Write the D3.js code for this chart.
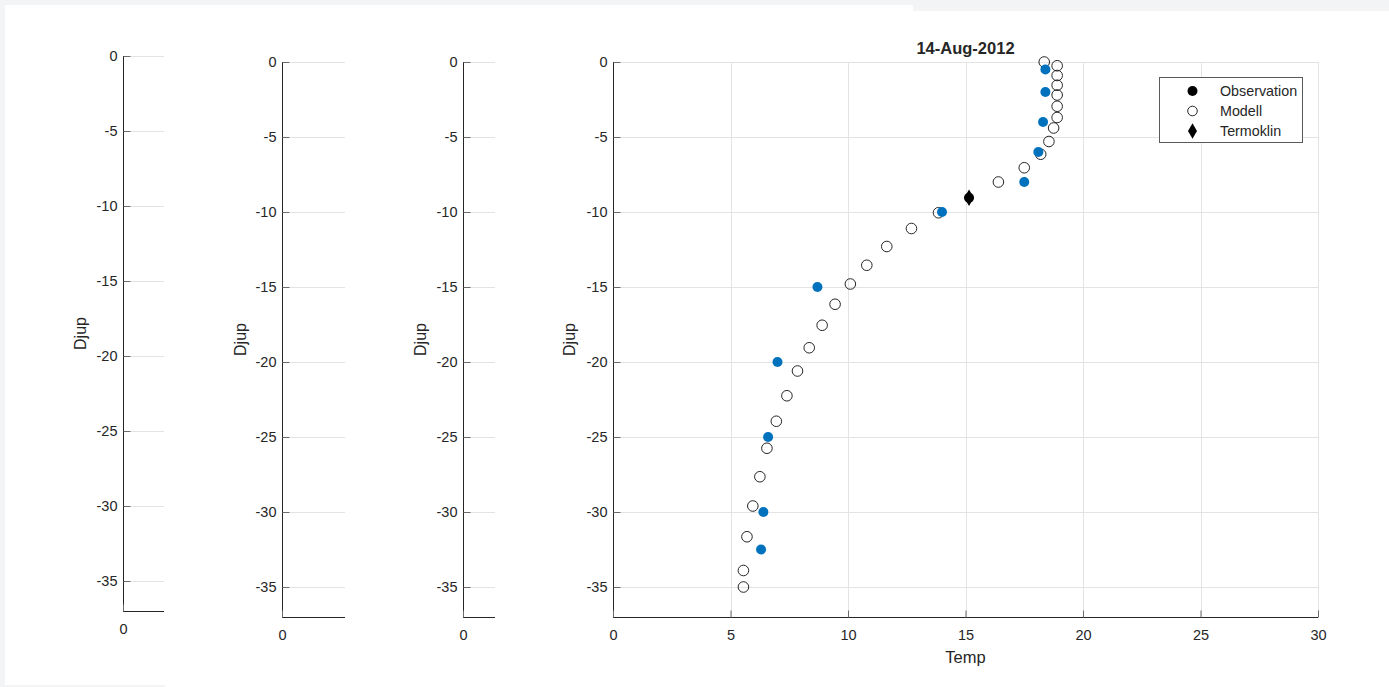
<!DOCTYPE html>
<html>
<head>
<meta charset="utf-8">
<script src="https://cdn.jsdelivr.net/npm/d3@7"></script>
<style>
  html, body { margin: 0; padding: 0; background: #f3f4f6; }
  svg { display: block; }
  text { font-family: "Liberation Sans", Arial, Helvetica, sans-serif; fill: #262626; }
</style>
</head>
<body>
<svg id="fig" width="1389" height="687"></svg>
<script>
// Profile date
const plotTitle = "14-Aug-2012";

// Observed temperature profile (depth in m, temperature in °C)
const obsDepth = [-0.5, -2, -4, -6, -8, -10, -15, -20, -25, -30, -32.5];
const obsTemp  = [18.4, 18.4, 18.3, 18.1, 17.5, 14.0, 8.7, 7.0, 6.6, 6.4, 6.3];

// Modelled temperature profile
const modDepth = [0, -0.25, -0.9, -1.55, -2.2, -2.95, -3.7, -4.4, -5.3, -6.15, -7.05, -8.0,
                  -10.05, -11.1, -12.3, -13.55, -14.8, -16.15, -17.55, -19.05, -20.6,
                  -22.25, -23.95, -25.75, -27.65, -29.6, -31.65, -33.9, -35.0];
const modTemp  = [18.35, 18.9, 18.9, 18.9, 18.9, 18.9, 18.9, 18.75, 18.55, 18.2, 17.5, 16.4,
                  13.85, 12.7, 11.65, 10.8, 10.1, 9.45, 8.9, 8.35, 7.85,
                  7.4, 6.95, 6.55, 6.25, 5.95, 5.7, 5.55, 5.55];

// Thermocline position
const thermoDepth = [-9.05];
const thermoTemp  = [15.15];

// Axis ticks
const depthTicks = [0, -5, -10, -15, -20, -25, -30, -35];
const tempTicks  = [0, 5, 10, 15, 20, 25, 30];
const emptyTempTicks = [0];

const legendLabels = ["Observation", "Modell", "Termoklin"];

const obsColor = "#0072bd";
const axisColor = "#262626";
const gridColor = "#e3e3e3";

const svg = d3.select("#fig");

// Figure background
svg.append("rect").attr("x", 5).attr("y", 5).attr("width", 908).attr("height", 680).attr("fill", "#fff");
svg.append("rect").attr("x", 913).attr("y", 11).attr("width", 476).attr("height", 676).attr("fill", "#fff");
svg.append("rect").attr("x", 165).attr("y", 685).attr("width", 748).attr("height", 2).attr("fill", "#fff");

// Subplot boxes: three empty profile axes and the main one
const panels = [
  { left: 123, right: 164, top: 56, bottom: 611, xDomain: [0, 1], xTicks: emptyTempTicks, ylabX: 80 },
  { left: 282, right: 345, top: 62, bottom: 617, xDomain: [0, 1], xTicks: emptyTempTicks, ylabX: 240 },
  { left: 463, right: 495, top: 62, bottom: 617, xDomain: [0, 1], xTicks: emptyTempTicks, ylabX: 420 },
  { left: 613, right: 1318, top: 62, bottom: 617, xDomain: [0, 30], xTicks: tempTicks, ylabX: 569, main: true }
];

const tickLen = 7;
const fmt = d => String(d);   // plain hyphen-minus, no decimals

panels.forEach(p => {
  const x = d3.scaleLinear().domain(p.xDomain).range([p.left, p.right]);
  const y = d3.scaleLinear().domain([-37, 0]).range([p.bottom, p.top]);
  const g = svg.append("g");

  // grid
  const grid = g.append("g").attr("stroke", gridColor).attr("stroke-width", 1);
  depthTicks.forEach(d => {
    grid.append("line")
      .attr("x1", p.left).attr("x2", p.right)
      .attr("y1", Math.round(y(d)) + 0.5).attr("y2", Math.round(y(d)) + 0.5);
  });
  if (p.main) {
    p.xTicks.filter(t => t > 0).forEach(t => {
      grid.append("line")
        .attr("x1", Math.round(x(t)) + 0.5).attr("x2", Math.round(x(t)) + 0.5)
        .attr("y1", p.top).attr("y2", p.bottom);
    });
  }

  // y axis
  const yAxis = d3.axisLeft(y).tickValues(depthTicks).tickFormat(fmt)
    .tickSizeInner(-tickLen).tickSizeOuter(0).tickPadding(6);
  const ya = g.append("g").attr("transform", `translate(${p.left + 0.5},0)`).call(yAxis);
  ya.select(".domain").attr("stroke", axisColor).attr("d", `M0,${p.top}V${p.bottom + 0.5}`);
  ya.selectAll(".tick line").attr("stroke", "#6b6b6b");
  ya.selectAll(".tick text").attr("font-size", 14.5).attr("fill", axisColor)
    .attr("font-family", "'Liberation Sans', Arial, sans-serif");

  // x axis
  const xAxis = d3.axisBottom(x).tickValues(p.xTicks).tickFormat(fmt)
    .tickSizeInner(-tickLen).tickSizeOuter(0).tickPadding(12);
  const xa = g.append("g").attr("transform", `translate(0,${p.bottom + 0.5})`).call(xAxis);
  xa.select(".domain").attr("stroke", axisColor).attr("d", `M${p.left},0H${p.right}`);
  xa.selectAll(".tick line").attr("stroke", "#6b6b6b");
  xa.selectAll(".tick text").attr("font-size", 14.5).attr("fill", axisColor)
    .attr("font-family", "'Liberation Sans', Arial, sans-serif");

  // y label
  g.append("text")
    .attr("transform", `translate(${p.ylabX},${(p.top + p.bottom) / 2}) rotate(-90)`)
    .attr("text-anchor", "middle").attr("dy", "0.35em")
    .attr("font-size", 16).text("Djup");

  if (p.main) {
    // title and x label
    g.append("text").attr("x", (p.left + p.right) / 2).attr("y", 54)
      .attr("text-anchor", "middle").attr("font-size", 16.5).attr("font-weight", "bold").text(plotTitle);
    g.append("text").attr("x", (p.left + p.right) / 2).attr("y", 663)
      .attr("text-anchor", "middle").attr("font-size", 16.5).text("Temp");

    // model (open circles)
    g.append("g").selectAll("circle").data(modDepth).join("circle")
      .attr("cx", (d, i) => x(modTemp[i])).attr("cy", d => y(d)).attr("r", 5.3)
      .attr("fill", "none").attr("stroke", axisColor).attr("stroke-width", 1);

    // observations (filled)
    g.append("g").selectAll("circle").data(obsDepth).join("circle")
      .attr("cx", (d, i) => x(obsTemp[i])).attr("cy", d => y(d)).attr("r", 5)
      .attr("fill", obsColor);

    // thermocline
    const diamond = d3.symbol().type(d3.symbolDiamond).size(80);
    g.append("g").selectAll("circle").data(thermoDepth).join("circle")
      .attr("cx", (d, i) => x(thermoTemp[i])).attr("cy", d => y(d)).attr("r", 5).attr("fill", "#000");
    g.append("g").selectAll("path").data(thermoDepth).join("path")
      .attr("transform", (d, i) => `translate(${x(thermoTemp[i])},${y(d)})`)
      .attr("d", diamond).attr("fill", "#000");

    // legend
    const lg = g.append("g");
    lg.append("rect").attr("x", 1159.5).attr("y", 77.5).attr("width", 143).attr("height", 65)
      .attr("fill", "#fff").attr("stroke", "#5a5a5a").attr("stroke-width", 1);
    const rows = [91, 111, 131];
    legendLabels.forEach((lab, i) => {
      const cy = rows[i];
      if (i === 0) lg.append("circle").attr("cx", 1192.5).attr("cy", cy).attr("r", 5).attr("fill", "#000");
      if (i === 1) lg.append("circle").attr("cx", 1192.5).attr("cy", cy).attr("r", 4.8)
        .attr("fill", "none").attr("stroke", axisColor).attr("stroke-width", 1);
      if (i === 2) lg.append("path").attr("transform", `translate(1192.5,${cy})`)
        .attr("d", d3.symbol().type(d3.symbolDiamond).size(70)).attr("fill", "#000");
      lg.append("text").attr("x", 1220).attr("y", cy).attr("dy", "0.35em")
        .attr("font-size", 14.3).text(lab);
    });
  }
});

// thin strip along the lower left edge
svg.append("rect").attr("x", 0).attr("y", 685).attr("width", 165).attr("height", 2).attr("fill", "#f3f4f6");
</script>
</body>
</html>
